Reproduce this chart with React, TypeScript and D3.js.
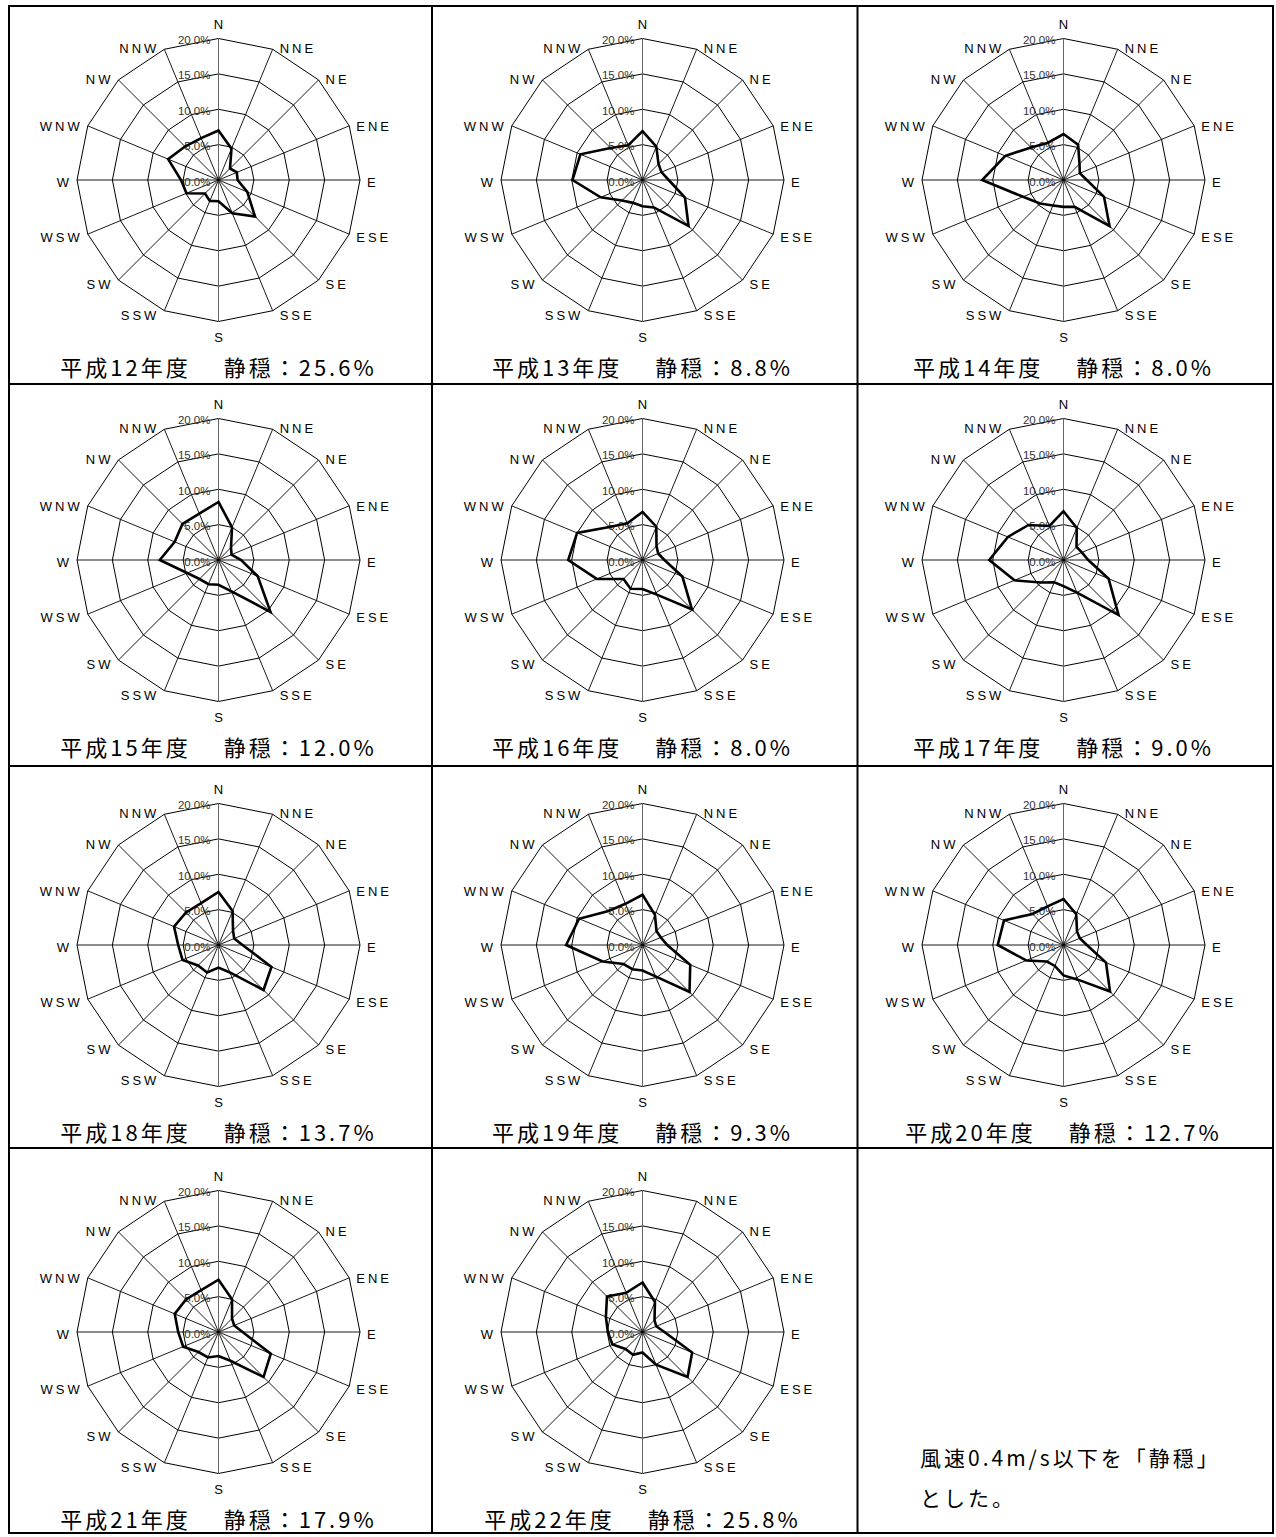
import React from 'react';
import * as d3 from 'd3';

// 16 wind directions, clockwise from north
const DIRECTIONS = ['N', 'NNE', 'NE', 'ENE', 'E', 'ESE', 'SE', 'SSE', 'S', 'SSW', 'SW', 'WSW', 'W', 'WNW', 'NW', 'NNW'];
const RING_TICKS = [0, 5, 10, 15, 20];

// fiscal years (Heisei) and calm ratio (%)
const YEARS = [12, 13, 14, 15, 16, 17, 18, 19, 20, 21, 22];
const CALM = [25.6, 8.8, 8.0, 12.0, 8.0, 9.0, 13.7, 9.3, 12.7, 17.9, 25.8];

// wind direction frequency (%), order N, NNE, ... NNW
const FREQ_H12 = [7.0, 4.8, 2.3, 2.8, 2.7, 4.4, 7.3, 5.1, 3.0, 3.2, 2.7, 4.9, 5.3, 7.7, 6.7, 6.4];
const FREQ_H13 = [6.9, 5.1, 3.2, 2.9, 3.7, 6.5, 9.2, 4.2, 3.7, 3.5, 4.1, 6.4, 9.9, 9.5, 6.4, 5.3];
const FREQ_H14 = [6.5, 5.4, 3.2, 2.5, 3.3, 6.2, 9.2, 4.1, 3.8, 3.9, 4.7, 6.2, 11.5, 8.9, 6.5, 5.7];
const FREQ_H15 = [8.2, 5.0, 2.5, 2.0, 3.2, 6.0, 10.4, 4.8, 3.5, 3.7, 3.8, 4.8, 8.3, 6.7, 7.2, 7.1];
const FREQ_H16 = [6.8, 5.1, 2.8, 2.4, 3.1, 6.1, 9.9, 5.3, 4.1, 4.4, 3.8, 7.0, 10.5, 10.0, 6.6, 5.6];
const FREQ_H17 = [6.9, 4.9, 2.6, 2.8, 3.5, 6.9, 11.0, 5.0, 3.7, 3.4, 4.5, 7.5, 10.5, 8.5, 7.0, 5.2];
const FREQ_H18 = [7.5, 5.2, 2.9, 2.4, 3.4, 8.1, 9.0, 4.2, 3.2, 4.2, 4.1, 5.5, 5.7, 6.8, 6.5, 6.4];
const FREQ_H19 = [7.1, 4.6, 2.8, 2.8, 3.5, 7.3, 9.4, 4.8, 3.6, 3.7, 3.8, 6.1, 10.8, 9.7, 6.8, 6.3];
const FREQ_H20 = [6.5, 4.7, 2.7, 2.5, 3.3, 6.5, 9.3, 5.3, 4.3, 3.2, 3.3, 5.7, 9.3, 9.1, 6.2, 5.9];
const FREQ_H21 = [7.4, 5.0, 2.7, 2.4, 3.4, 8.0, 9.0, 4.4, 3.4, 3.9, 4.0, 5.4, 5.7, 6.7, 6.5, 6.4];
const FREQ_H22 = [7.0, 4.6, 2.4, 2.1, 3.1, 7.6, 9.0, 5.0, 2.9, 3.5, 3.4, 4.6, 4.9, 5.6, 7.1, 6.0];

const SERIES = [FREQ_H12, FREQ_H13, FREQ_H14, FREQ_H15, FREQ_H16, FREQ_H17, FREQ_H18, FREQ_H19, FREQ_H20, FREQ_H21, FREQ_H22];

const NOTE_LINES = ['風速0.4m/s以下を「静穏」', 'とした。'];

// table grid
const COL_X = [9, 432, 857.5, 1273];
const ROW_Y = [6, 384, 766, 1148, 1533];
const CENTER_X = [218.5, 642.5, 1063.5];
const CENTER_Y = [180, 560, 945, 1332];
const R = 141.5;

const JP_FONT = '"Noto Sans CJK JP", "Noto Sans", sans-serif';
const LAT_FONT = '"Liberation Sans", Arial, sans-serif';

function Rose({ cx, cy, values, year, calm }: { cx: number; cy: number; values: number[]; year: number; calm: number }) {
  const r = d3.scaleLinear().domain([0, 20]).range([0, R]);
  const n = DIRECTIONS.length;
  const ang = (i: number) => (i * 2 * Math.PI) / n;
  const radial = d3
    .lineRadial<number>()
    .angle((_, i) => ang(i))
    .radius((d) => r(d))
    .curve(d3.curveLinearClosed);

  return (
    <g transform={`translate(${cx},${cy})`}>
      {RING_TICKS.filter((t) => t > 0).map((t) => (
        <path key={t} d={radial(DIRECTIONS.map(() => t)) || ''} fill="none" stroke="#000" strokeWidth={1} />
      ))}
      {DIRECTIONS.map((dname, i) => {
        const a = ang(i);
        const x = Math.sin(a) * r(20);
        const y = -Math.cos(a) * r(20);
        const axis = dname === 'N' || dname === 'S';
        return <line key={dname} x1={0} y1={0} x2={x} y2={y} stroke={axis ? '#666' : '#000'} strokeWidth={axis ? 1 : 0.9} />;
      })}
      {RING_TICKS.map((t) => (
        <text
          key={t}
          x={-8}
          y={-r(t) + 1.5}
          textAnchor="end"
          dominantBaseline="central"
          fontSize={11.5}
          fill="#333"
          fontFamily={LAT_FONT}
        >
          {t.toFixed(1)}%
        </text>
      ))}
      <path d={radial(values) || ''} fill="none" stroke="#000" strokeWidth={2.6} strokeLinejoin="miter" />
      {DIRECTIONS.map((dname, i) => {
        const a = ang(i);
        const s = Math.sin(a);
        const c = Math.cos(a);
        const vx = s * r(20);
        const vy = -c * r(20);
        let anchor = 'middle';
        let x = vx;
        let y = vy;
        if (dname === 'N') {
          y = vy - 14;
        } else if (dname === 'S') {
          y = vy + 16;
        } else {
          anchor = s > 0 ? 'start' : 'end';
          x = vx + (s > 0 ? 7 : -5);
          y = vy + 2 - 3.5 * c;
        }
        return (
          <text
            key={dname}
            x={x}
            y={y}
            textAnchor={anchor}
            dominantBaseline="central"
            fontSize={13}
            letterSpacing={anchor === 'middle' ? 0 : 3}
            fontFamily={LAT_FONT}
            fill="#000"
          >
            {dname}
          </text>
        );
      })}
      <text
        x={0}
        y={186}
        textAnchor="middle"
        dominantBaseline="central"
        fontSize={22}
        letterSpacing={3}
        fontFamily={JP_FONT}
        fill="#000"
      >
        {`平成${year}年度　 静穏：${calm.toFixed(1)}%`}
      </text>
    </g>
  );
}

export default function App() {
  return (
    <svg width={1276} height={1537} style={{ position: 'absolute', left: 0, top: 0, display: 'block', background: '#fff' }}>
      <rect x={0} y={0} width={1276} height={1537} fill="#fff" />
      {SERIES.map((vals, idx) => {
        const row = Math.floor(idx / 3);
        const col = idx % 3;
        return <Rose key={idx} cx={CENTER_X[col]} cy={CENTER_Y[row]} values={vals} year={YEARS[idx]} calm={CALM[idx]} />;
      })}
      {NOTE_LINES.map((line, i) => (
        <text key={i} x={920} y={1457 + i * 40} dominantBaseline="central" fontSize={21} letterSpacing={3} fontFamily={JP_FONT} fill="#000">
          {line}
        </text>
      ))}
      {COL_X.map((x) => (
        <line key={`v${x}`} x1={x} y1={ROW_Y[0] - 1} x2={x} y2={ROW_Y[ROW_Y.length - 1] + 1} stroke="#000" strokeWidth={2} />
      ))}
      {ROW_Y.map((y) => (
        <line key={`h${y}`} x1={COL_X[0] - 1} y1={y} x2={COL_X[COL_X.length - 1] + 1} y2={y} stroke="#000" strokeWidth={2} />
      ))}
    </svg>
  );
}
